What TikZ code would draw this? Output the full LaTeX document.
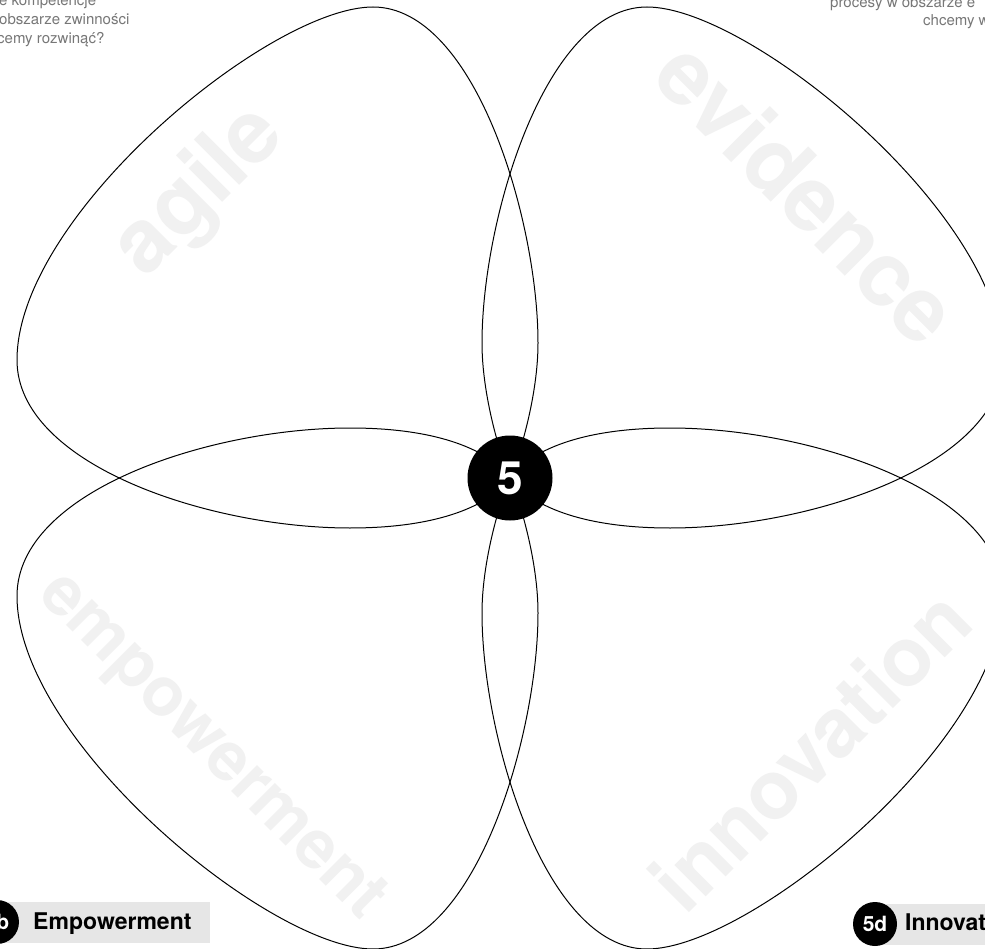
\documentclass[tikz,border=0pt]{standalone}
\usepackage{fontspec}
\setmainfont{TeX Gyre Heros}
\definecolor{wm}{HTML}{F1F1F1}
\definecolor{lbl}{HTML}{E6E6E6}
\definecolor{qtext}{HTML}{777777}
\newcommand\fsz[1]{\fontsize{#1}{#1}\selectfont}
\begin{document}
\begin{tikzpicture}[x=1pt,y=-1pt,
  petal/.style={draw=black, line width=1pt},
  watermark/.style={text=wm, font=\bfseries\fsz{#1}, inner sep=0},
  question/.style={anchor=base west, text=qtext, font=\fsz{15}, inner sep=0},
  badge/.style={circle, fill=black, minimum size=44pt, inner sep=0, text=white, font=\bfseries\fsz{21}},
  labeltext/.style={anchor=base west, font=\bfseries\fsz{23}, inner sep=0}]
\useasboundingbox (0,0) rectangle (985,949);
\clip (0,0) rectangle (985,949);
\fill[white] (0,0) rectangle (985,949);
% watermarks
\node[watermark=88, rotate=45] (wagile) at (200,192) {agile};
\node[watermark=90, rotate=-45] (wevid) at (808,192) {evidence};
\node[watermark=68, rotate=-45] (wemp) at (210,748) {empowerment};
\node[watermark=82, rotate=45] (winno) at (810,750) {innovation};
% petals
\def\petalpath{(510,478) .. controls (520,455) and (538,395) .. (538,343)
  .. controls (538,220) and (475,7) .. (373,7)
  .. controls (270,7) and (17,215) .. (17,360)
  .. controls (17,465) and (210,528) .. (350,528)
  .. controls (440,528) and (490,505) .. (510,478) -- cycle}
\draw[petal] \petalpath;
\begin{scope}[xshift=1020pt, xscale=-1]
  \draw[petal] \petalpath;
\end{scope}
\begin{scope}[yshift=-956pt, yscale=-1]
  \draw[petal] \petalpath;
\end{scope}
\begin{scope}[xshift=1020pt, yshift=-956pt, xscale=-1, yscale=-1]
  \draw[petal] \petalpath;
\end{scope}
% centre
\node[circle, fill=black, minimum size=85pt, inner sep=0, text=white,
  font=\bfseries\fsz{46}] (centre) at (510,478) {5};
% questions (cut by the frame)
\node[question] (q1) at (-1,6) {e kompetencje};
\node[question] (q2) at (-1,25) {obszarze zwinności};
\node[question] (q3) at (-3,44) {cemy rozwinąć?};
\node[question] (r1) at (830,8) {procesy w obszarze e};
\node[question] (r2) at (923,26) {chcemy w};
% bottom labels
\fill[lbl] (-10,902) rectangle (210,943);
\node[badge] (b5) at (-3,922) {5b};
\node[labeltext] (lb) at (33,929) {Empowerment};
\fill[lbl] (875,904) rectangle (995,945);
\node[badge] (d5) at (875,924) {5d};
\node[labeltext] (ld) at (905,930) {Innovation};
\end{tikzpicture}
\end{document}
